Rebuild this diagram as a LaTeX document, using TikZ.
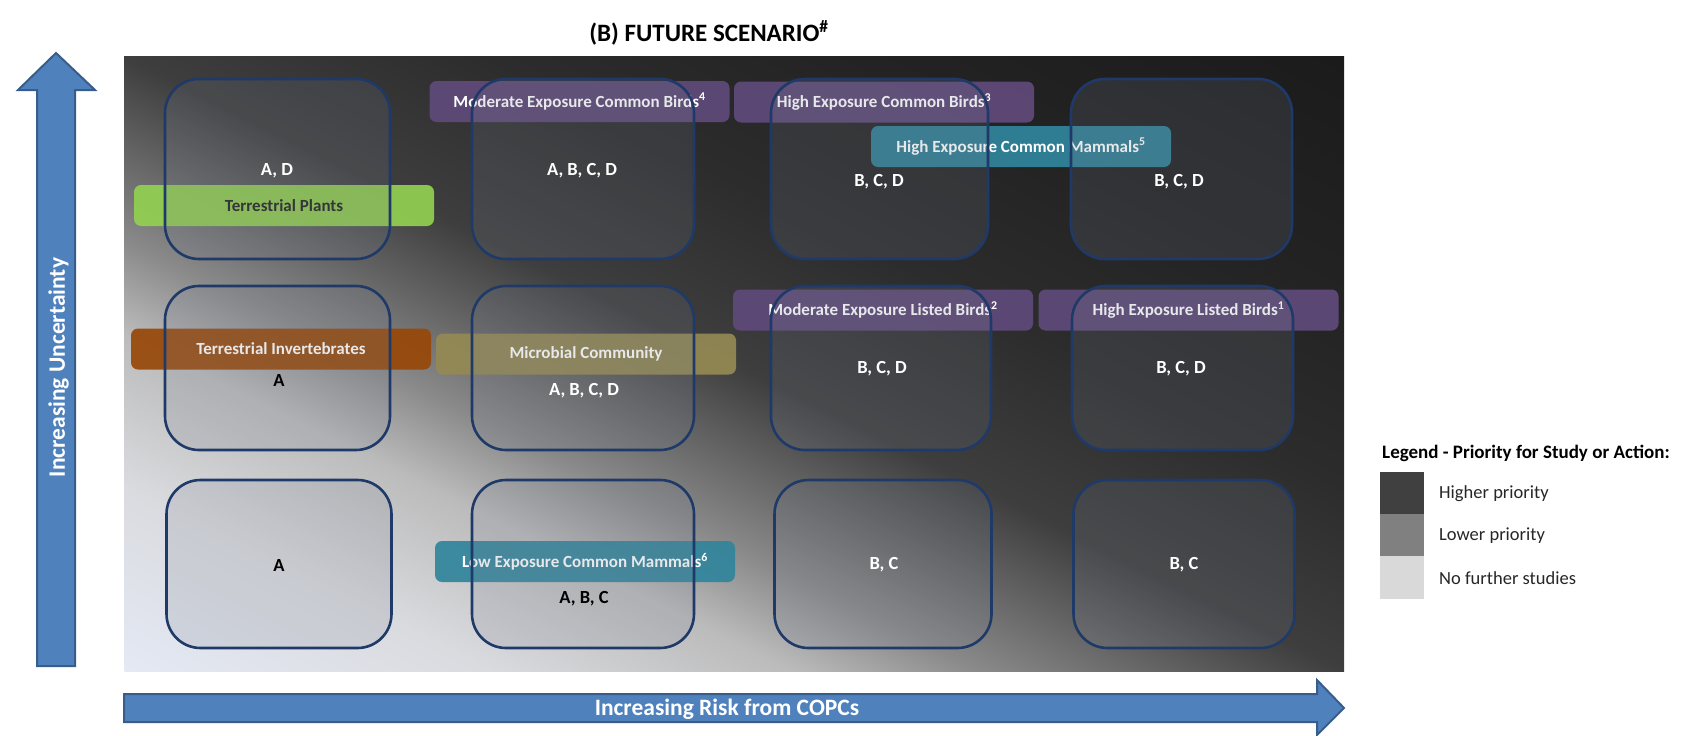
\documentclass[tikz,border=0pt]{standalone}
\usepackage{fontspec}
\setmainfont{Carlito}
\definecolor{bga}{HTML}{E4E9F4}
\definecolor{bgb}{HTML}{DADBDF}
\definecolor{bgc}{HTML}{BBBBBB}
\definecolor{bgd}{HTML}{8A8A8A}
\definecolor{bge}{HTML}{646464}
\definecolor{bgf}{HTML}{3E3E3E}
\definecolor{bgg}{HTML}{2C2C2C}
\definecolor{bgh}{HTML}{232323}
\definecolor{bgi}{HTML}{1B1B1B}
\definecolor{cellline}{HTML}{1F3A68}
\definecolor{cellfill}{HTML}{7A8090}
\definecolor{arrowfill}{HTML}{4F81BD}
\definecolor{arrowline}{HTML}{385D8A}
\definecolor{cpurple}{HTML}{604A7B}
\definecolor{cteal}{HTML}{31859C}
\definecolor{cgreen}{HTML}{92D050}
\definecolor{corange}{HTML}{984807}
\definecolor{colive}{HTML}{948A54}
\definecolor{darktext}{HTML}{262626}
\definecolor{lghigh}{HTML}{404040}
\definecolor{lglow}{HTML}{808080}
\definecolor{lgnone}{HTML}{D9D9D9}
\pgfdeclarehorizontalshading{bgaxis}{100bp}{color(0bp)=(bga); color(25bp)=(bga); color(32.48bp)=(bgb); color(38.71bp)=(bgc); color(42.45bp)=(bgd); color(46.19bp)=(bge); color(49.93bp)=(bgf); color(57.41bp)=(bgg); color(64.89bp)=(bgh); color(74.86bp)=(bgi); color(100bp)=(bgi)}
\begin{document}
\begin{tikzpicture}[x=1pt,y=-1pt,
  cell/.style={draw=cellline, line width=2.6pt, rounded corners=34pt, fill=cellfill, fill opacity=0.18, draw opacity=1, inner sep=0pt, outer sep=0pt},
  tag/.style={rounded corners=7pt, minimum width=300pt, minimum height=41pt, inner sep=0pt, text=white, font=\bfseries\fontsize{17}{19}\selectfont, fill opacity=0.92, text opacity=1},
  grade/.style={font=\bfseries\fontsize{18.5}{20}\selectfont, text=white, inner sep=0pt},
  gradeblack/.style={grade, text=black},
  arrowshape/.style={fill=arrowfill, draw=arrowline, line width=2pt, line join=miter},
  legtext/.style={font=\fontsize{18.5}{20}\selectfont, text=darktext, anchor=west, inner sep=0pt}
]
\useasboundingbox (0,0) rectangle (1684,736);
% background panel
\begin{scope}
  \clip (124,56) rectangle (1344,671);
  \begin{scope}[transform canvas={shift={(124,671)}, rotate=63.3}]
    \shade[shading=bgaxis] (0pt,-1200pt) rectangle (1100pt,400pt);
  \end{scope}
\end{scope}
% title
\node[font=\bfseries\fontsize{25}{28}\selectfont, text=black] (title) at (709,33) {(B) FUTURE SCENARIO\textsuperscript{\#}};
% axis arrows
\draw[arrowshape] (37,666) -- (37,90) -- (18,90) -- (56,53) -- (95,90) -- (75,90) -- (75,666) -- cycle;
\node[rotate=90, font=\bfseries\fontsize{23.5}{26}\selectfont, text=white] (ylab) at (58.5,367.5) {Increasing Uncertainty};
\draw[arrowshape] (124,694) -- (1317,694) -- (1317,680) -- (1344,708) -- (1317,735) -- (1317,722) -- (124,722) -- cycle;
\node[font=\bfseries\fontsize{23.5}{26}\selectfont, text=white] (xlab) at (727,709) {Increasing Risk from COPCs};
% labels
\node[tag, fill=cgreen, text=darktext] (tplants) at (284,205.5) {Terrestrial Plants};
\node[tag, fill=cpurple] (mecb) at (579.5,101.5) {Moderate Exposure Common Birds\textsuperscript{4}};
\node[tag, fill=cpurple] (hecb) at (884,102) {High Exposure Common Birds\textsuperscript{3}};
\node[tag, fill=cteal] (hecm) at (1021,146.5) {High Exposure Common Mammals\textsuperscript{5}};
\node[tag, fill=corange] (tinv) at (281,349) {Terrestrial Invertebrates};
\node[tag, fill=colive] (micro) at (586,354) {Microbial Community};
\node[tag, fill=cteal] (lecm) at (585,561.5) {Low Exposure Common Mammals\textsuperscript{6}};
\node[tag, fill=cpurple] (melb) at (883,310) {Moderate Exposure Listed Birds\textsuperscript{2}};
\node[tag, fill=cpurple] (helb) at (1188.5,310) {High Exposure Listed Birds\textsuperscript{1}};
% cells
\node[cell, minimum width=225pt, minimum height=180pt] (c11) at (277.5,169) {};
\node[cell, minimum width=222pt, minimum height=180pt] (c12) at (583,169) {};
\node[cell, minimum width=217pt, minimum height=180pt] (c13) at (879.5,169) {};
\node[cell, minimum width=221pt, minimum height=180pt] (c14) at (1181.5,169) {};
\node[cell, minimum width=225pt, minimum height=164pt] (c21) at (277.5,368) {};
\node[cell, minimum width=222pt, minimum height=164pt] (c22) at (583,368) {};
\node[cell, minimum width=220pt, minimum height=164pt] (c23) at (881,368) {};
\node[cell, minimum width=221pt, minimum height=164pt] (c24) at (1182.5,368) {};
\node[cell, minimum width=225pt, minimum height=168pt] (c31) at (279,564) {};
\node[cell, minimum width=222pt, minimum height=168pt] (c32) at (583,564) {};
\node[cell, minimum width=217pt, minimum height=168pt] (c33) at (883,564) {};
\node[cell, minimum width=221pt, minimum height=168pt] (c34) at (1184,564) {};
% grades
\node[grade] (g11) at (277,171) {A, D};
\node[grade] (g12) at (582,171) {A, B, C, D};
\node[grade] (g13) at (879,182) {B, C, D};
\node[grade] (g14) at (1179,182) {B, C, D};
\node[gradeblack] (g21) at (279,380) {A};
\node[grade] (g22) at (584,391) {A, B, C, D};
\node[grade] (g23) at (882,369) {B, C, D};
\node[grade] (g24) at (1181,369) {B, C, D};
\node[gradeblack] (g31) at (279,565) {A};
\node[gradeblack] (g32) at (584,599) {A, B, C};
\node[grade] (g33) at (884,565) {B, C};
\node[grade] (g34) at (1184,565) {B, C};
% legend
\node[font=\bfseries\fontsize{19}{21}\selectfont, text=black, anchor=west, inner sep=0pt] (legtitle) at (1382,453) {Legend - Priority for Study or Action:};
\node[fill=lghigh, minimum width=44pt, minimum height=42pt, inner sep=0pt, anchor=north west] (swhigh) at (1380,472) {};
\node[fill=lglow, minimum width=44pt, minimum height=42pt, inner sep=0pt, anchor=north west] (swlow) at (1380,514) {};
\node[fill=lgnone, minimum width=44pt, minimum height=43pt, inner sep=0pt, anchor=north west] (swnone) at (1380,556) {};
\node[legtext] (lhigh) at (1439,494) {Higher priority};
\node[legtext] (llow) at (1439,536) {Lower priority};
\node[legtext] (lnone) at (1439,578) {No further studies};
\end{tikzpicture}
\end{document}
